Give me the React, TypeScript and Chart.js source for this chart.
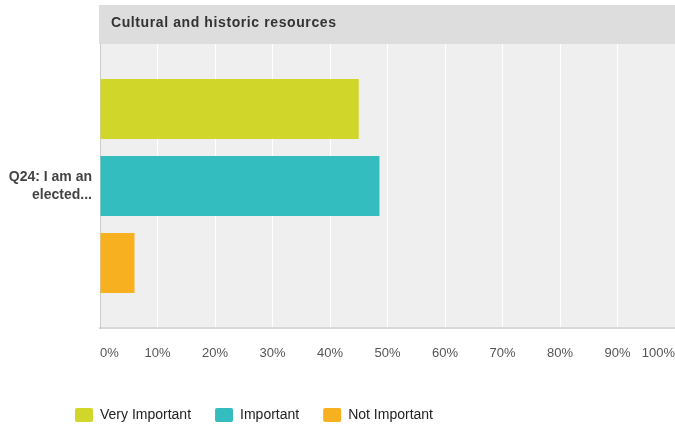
import React, { useEffect, useRef } from "react";
import { Chart, registerables } from "chart.js";

Chart.register(...registerables);

const categories = [["Q24: I am an", "elected..."]];
const seriesNames = ["Very Important", "Important", "Not Important"];
const veryImportant = [45.0];
const important = [48.6];
const notImportant = [6.0];
const seriesColors = ["#d1d62a", "#33bdbf", "#f7b020"];
const chartTitle = "Cultural and historic resources";
const xTicks = [0, 10, 20, 30, 40, 50, 60, 70, 80, 90, 100];

const FONT = "'Liberation Sans', Arial, Helvetica, sans-serif";

const backgroundPlugin = {
  id: "bgPlugin",
  beforeDraw(chart: any) {
    const { ctx, chartArea } = chart;
    ctx.save();
    ctx.fillStyle = "#efefef";
    ctx.fillRect(chartArea.left, chartArea.top, chartArea.right - chartArea.left, chartArea.bottom - chartArea.top);
    ctx.fillStyle = "#dddddd";
    ctx.fillRect(chartArea.left - 1, 5, chart.width - chartArea.left + 1, chartArea.top - 5);
    ctx.fillStyle = "#333333";
    ctx.font = "bold 14px " + FONT;
    try { (ctx as any).letterSpacing = "0.6px"; } catch (e) {}
    ctx.textBaseline = "middle";
    ctx.textAlign = "left";
    ctx.fillText(chartTitle, chartArea.left + 11, 23.5);
    try { (ctx as any).letterSpacing = "0px"; } catch (e) {}
    ctx.restore();
  },
  afterLayout(chart: any) {
    const lg = chart.legend;
    if (lg) {
      const w = lg.right - lg.left;
      lg.left = 51;
      lg.right = 51 + w;
      const h = lg.bottom - lg.top;
      lg.top = 384;
      lg.bottom = 384 + h;
    }
  },
};

export default function App() {
  const ref = useRef<HTMLCanvasElement | null>(null);
  useEffect(() => {
    if (!ref.current) return;
    const chart = new Chart(ref.current, {
      type: "bar",
      data: {
        labels: categories as any,
        datasets: [
          { label: seriesNames[0], data: veryImportant, backgroundColor: seriesColors[0] },
          { label: seriesNames[1], data: important, backgroundColor: seriesColors[1] },
          { label: seriesNames[2], data: notImportant, backgroundColor: seriesColors[2] },
        ],
      },
      options: {
        indexAxis: "y",
        responsive: false,
        animation: false,
        categoryPercentage: 0.813,
        barPercentage: 0.78,
        layout: { padding: { top: 44, right: 0, left: 0, bottom: 0 } },
        scales: {
          x: {
            min: 0,
            max: 100,
            afterBuildTicks(scale: any) {
              scale.ticks = xTicks.map((v) => ({ value: v }));
            },
            afterFit(scale: any) {
              scale.height = 50;
              scale.paddingLeft = 0;
              scale.paddingRight = 0;
            },
            ticks: {
              callback: (v: any) => v + "%",
              align: "inner",
              maxRotation: 0,
              autoSkip: false,
              padding: 18,
              color: "#555555",
              font: { family: FONT, size: 13 },
            },
            grid: { color: "#ffffff", lineWidth: 1, drawTicks: false },
            border: { color: "#d9d9d9", width: 2 },
          },
          y: {
            afterFit(scale: any) {
              scale.width = 100;
              scale.paddingTop = 0;
              scale.paddingBottom = 0;
            },
            ticks: {
              padding: 8,
              color: "#444444",
              font: { family: FONT, size: 14, weight: "bold", lineHeight: 1.3 },
            },
            grid: { display: false, drawTicks: false },
            border: { color: "#cccccc", width: 1 },
          },
        },
        plugins: {
          legend: {
            position: "bottom",
            align: "start",
            labels: {
              boxWidth: 18,
              boxHeight: 14,
              padding: 24,
              useBorderRadius: true,
              borderRadius: 2,
              color: "#222222",
              font: { family: FONT, size: 14 },
            },
          },
          tooltip: { enabled: false },
          title: { display: false },
        },
      },
      plugins: [backgroundPlugin],
    } as any);
    return () => chart.destroy();
  }, []);
  return (
    <div style={{ position: "fixed", left: 0, top: 0, width: 675, height: 426 }}>
      <canvas ref={ref} width={675} height={426} />
    </div>
  );
}
